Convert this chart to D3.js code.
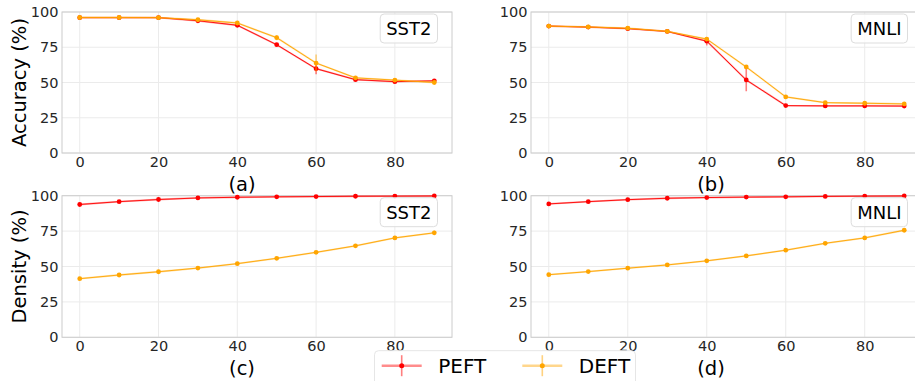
<!DOCTYPE html>
<html>
<head>
<meta charset="utf-8">
<script src="https://cdn.jsdelivr.net/npm/d3@7"></script>
<style>
  body { margin: 0; background: #fff; }
  svg { display: block; font-family: "DejaVu Sans", sans-serif; }
</style>
</head>
<body>
<div id="chart"></div>
<script>
// sparsity (%) on the x axis
var sparsity = [0, 10, 20, 30, 40, 50, 60, 70, 80, 90];
var xTicks = [0, 20, 40, 60, 80];
var yTicks = [0, 25, 50, 75, 100];
var seriesNames = ["PEFT", "DEFT"];
var seriesColors = ["#ff0000", "#ffa500"];

// accuracy, SST2
var accSST2Peft    = [96.0, 96.0, 96.0, 93.8, 90.6, 76.8, 59.8, 52.0, 50.6, 51.2];
var accSST2PeftErr = [0.3, 0.3, 0.3, 0.8, 1.0, 1.0, 4.0, 0.6, 0.6, 0.6];
var accSST2Deft    = [96.1, 96.1, 96.0, 94.5, 92.2, 81.8, 63.8, 53.3, 51.7, 50.0];
var accSST2DeftErr = [0.3, 0.3, 0.3, 0.8, 1.0, 1.8, 6.0, 0.6, 0.6, 0.6];

// accuracy, MNLI
var accMNLIPeft    = [90.0, 89.3, 88.2, 86.2, 79.3, 51.8, 33.6, 33.4, 33.4, 33.3];
var accMNLIPeftErr = [0.3, 0.3, 0.3, 0.5, 3.0, 8.0, 0.6, 0.6, 0.6, 0.6];
var accMNLIDeft    = [90.0, 89.4, 88.5, 86.3, 80.8, 61.0, 39.8, 35.7, 35.3, 34.8];
var accMNLIDeftErr = [0.3, 0.3, 0.5, 0.5, 1.5, 1.0, 0.5, 0.5, 0.5, 0.5];

// density, SST2
var denSST2Peft    = [93.8, 95.8, 97.3, 98.4, 98.9, 99.2, 99.4, 99.6, 99.7, 99.8];
var denSST2PeftErr = [0.3, 0.3, 0.3, 0.3, 0.3, 0.3, 0.3, 0.3, 0.3, 0.3];
var denSST2Deft    = [41.4, 44.0, 46.3, 48.9, 52.0, 55.8, 60.0, 64.6, 70.2, 73.8];
var denSST2DeftErr = [0.4, 0.4, 0.4, 0.4, 0.4, 0.4, 0.4, 0.6, 0.8, 1.6];

// density, MNLI
var denMNLIPeft    = [94.2, 95.8, 97.2, 98.2, 98.7, 99.0, 99.2, 99.5, 99.7, 99.8];
var denMNLIPeftErr = [0.3, 0.3, 0.3, 0.3, 0.3, 0.3, 0.3, 0.3, 0.3, 0.3];
var denMNLIDeft    = [44.2, 46.4, 48.8, 51.1, 54.0, 57.5, 61.5, 66.4, 70.2, 75.6];
var denMNLIDeftErr = [0.4, 0.4, 0.4, 0.4, 0.4, 0.4, 0.4, 0.6, 0.6, 0.8];

var width = 915, height = 381;

var svg = d3.select("#chart").append("svg")
    .attr("width", width)
    .attr("height", height);

var panels = [
    {left: 62,  right: 452, top: 12,    bottom: 153,   tag: "(a)", task: "SST2", ylabel: "Accuracy (%)",
     series: [[accSST2Peft, accSST2PeftErr], [accSST2Deft, accSST2DeftErr]]},
    {left: 531, right: 922, top: 12,    bottom: 153,   tag: "(b)", task: "MNLI", ylabel: null,
     series: [[accMNLIPeft, accMNLIPeftErr], [accMNLIDeft, accMNLIDeftErr]]},
    {left: 62,  right: 452, top: 195.7, bottom: 337.3, tag: "(c)", task: "SST2", ylabel: "Density (%)",
     series: [[denSST2Peft, denSST2PeftErr], [denSST2Deft, denSST2DeftErr]]},
    {left: 531, right: 922, top: 195.7, bottom: 337.3, tag: "(d)", task: "MNLI", ylabel: null,
     series: [[denMNLIPeft, denMNLIPeftErr], [denMNLIDeft, denMNLIDeftErr]]}
];

panels.forEach(function(p) { drawPanel(p); });
drawLegend();

function drawPanel(p) {
    var g = svg.append("g");

    var x = d3.scaleLinear().domain([-4.5, 94.5]).range([p.left, p.right]);
    var y = d3.scaleLinear().domain([0, 100]).range([p.bottom, p.top]);

    // grid
    g.selectAll(".gridx").data(xTicks).enter().append("line")
        .attr("x1", function(d) { return x(d); })
        .attr("x2", function(d) { return x(d); })
        .attr("y1", p.top).attr("y2", p.bottom)
        .attr("stroke", "#ebebeb").attr("stroke-width", 1);

    g.selectAll(".gridy").data(yTicks).enter().append("line")
        .attr("x1", p.left).attr("x2", p.right)
        .attr("y1", function(d) { return y(d); })
        .attr("y2", function(d) { return y(d); })
        .attr("stroke", "#ebebeb").attr("stroke-width", 1);

    // frame
    g.append("rect")
        .attr("x", p.left).attr("y", p.top)
        .attr("width", p.right - p.left).attr("height", p.bottom - p.top)
        .attr("fill", "none").attr("stroke", "#cccccc").attr("stroke-width", 1);

    // axes
    var xAxis = g.append("g")
        .attr("transform", "translate(0," + p.bottom + ")")
        .call(d3.axisBottom(x).tickValues(xTicks).tickSize(0).tickPadding(3.5));
    var yAxis = g.append("g")
        .attr("transform", "translate(" + p.left + ",0)")
        .call(d3.axisLeft(y).tickValues(yTicks).tickSize(0).tickPadding(3.5));
    [xAxis, yAxis].forEach(function(a) {
        a.select(".domain").remove();
        a.selectAll("text")
            .attr("font-family", "DejaVu Sans, sans-serif")
            .attr("font-size", 14.5)
            .attr("fill", "#262626");
    });

    // series: PEFT first, DEFT on top
    var line = d3.line()
        .x(function(d) { return x(d.x); })
        .y(function(d) { return y(d.y); });

    p.series.forEach(function(s, i) {
        var pts = sparsity.map(function(v, j) { return {x: v, y: s[0][j], e: s[1][j]}; });
        var color = seriesColors[i];

        g.append("path").datum(pts)
            .attr("d", line)
            .attr("fill", "none")
            .attr("stroke", color)
            .attr("stroke-opacity", 0.35)
            .attr("stroke-width", 1.8);

        g.selectAll(".err" + i).data(pts).enter().append("line")
            .attr("x1", function(d) { return x(d.x); })
            .attr("x2", function(d) { return x(d.x); })
            .attr("y1", function(d) { return y(d.y - d.e); })
            .attr("y2", function(d) { return y(d.y + d.e); })
            .attr("stroke", color)
            .attr("stroke-opacity", 0.5)
            .attr("stroke-width", 1.6);

        g.append("path").datum(pts)
            .attr("d", line)
            .attr("fill", "none")
            .attr("stroke", color)
            .attr("stroke-width", 0.9);

        g.selectAll(".pt" + i).data(pts).enter().append("circle")
            .attr("cx", function(d) { return x(d.x); })
            .attr("cy", function(d) { return y(d.y); })
            .attr("r", 2.4)
            .attr("fill", color);
    });

    // task box, upper right
    var box = g.append("g");
    var boxRect = box.append("rect");
    var boxText = box.append("text")
        .attr("font-size", 18)
        .attr("fill", "#000")
        .attr("text-anchor", "middle")
        .text(p.task);
    var tw = boxText.node().getComputedTextLength();
    var bw = tw + 12, bh = 29;
    var bx = p.right - 14.5 - bw, by = p.top + 2;
    boxRect.attr("x", bx).attr("y", by)
        .attr("width", bw).attr("height", bh)
        .attr("rx", 4)
        .attr("fill", "#fff").attr("fill-opacity", 0.8)
        .attr("stroke", "#dddddd").attr("stroke-width", 1);
    boxText.attr("x", bx + bw / 2).attr("y", by + 21);

    // panel tag
    g.append("text")
        .attr("x", p.left + 180)
        .attr("y", p.bottom + 37.7)
        .attr("text-anchor", "middle")
        .attr("font-size", 19.5)
        .attr("fill", "#000")
        .text(p.tag);

    if (p.ylabel) {
        g.append("text")
            .attr("transform", "translate(26," + ((p.top + p.bottom) / 2) + ") rotate(-90)")
            .attr("text-anchor", "middle")
            .attr("font-size", 19.5)
            .attr("fill", "#000")
            .text(p.ylabel);
    }
}

function drawLegend() {
    var lg = svg.append("g");
    lg.append("rect")
        .attr("x", 374.5).attr("y", 350.7)
        .attr("width", 261).attr("height", 40)
        .attr("rx", 4)
        .attr("fill", "#fff").attr("fill-opacity", 0.8)
        .attr("stroke", "#e6e6e6").attr("stroke-width", 1);

    var starts = [381.7, 522.3];
    seriesNames.forEach(function(name, i) {
        var x0 = starts[i], ym = 365.7, c = seriesColors[i];
        lg.append("line")
            .attr("x1", x0).attr("x2", x0 + 40)
            .attr("y1", ym).attr("y2", ym)
            .attr("stroke", c).attr("stroke-opacity", 0.45).attr("stroke-width", 2.5);
        lg.append("line")
            .attr("x1", x0 + 20).attr("x2", x0 + 20)
            .attr("y1", ym - 10.5).attr("y2", ym + 10.5)
            .attr("stroke", c).attr("stroke-opacity", 0.5).attr("stroke-width", 1.6);
        lg.append("circle")
            .attr("cx", x0 + 20).attr("cy", ym).attr("r", 2.5)
            .attr("fill", c);
        lg.append("text")
            .attr("x", x0 + 56.5).attr("y", ym + 7.5)
            .attr("font-size", 20)
            .attr("fill", "#000")
            .text(name);
    });
}
</script>
</body>
</html>
